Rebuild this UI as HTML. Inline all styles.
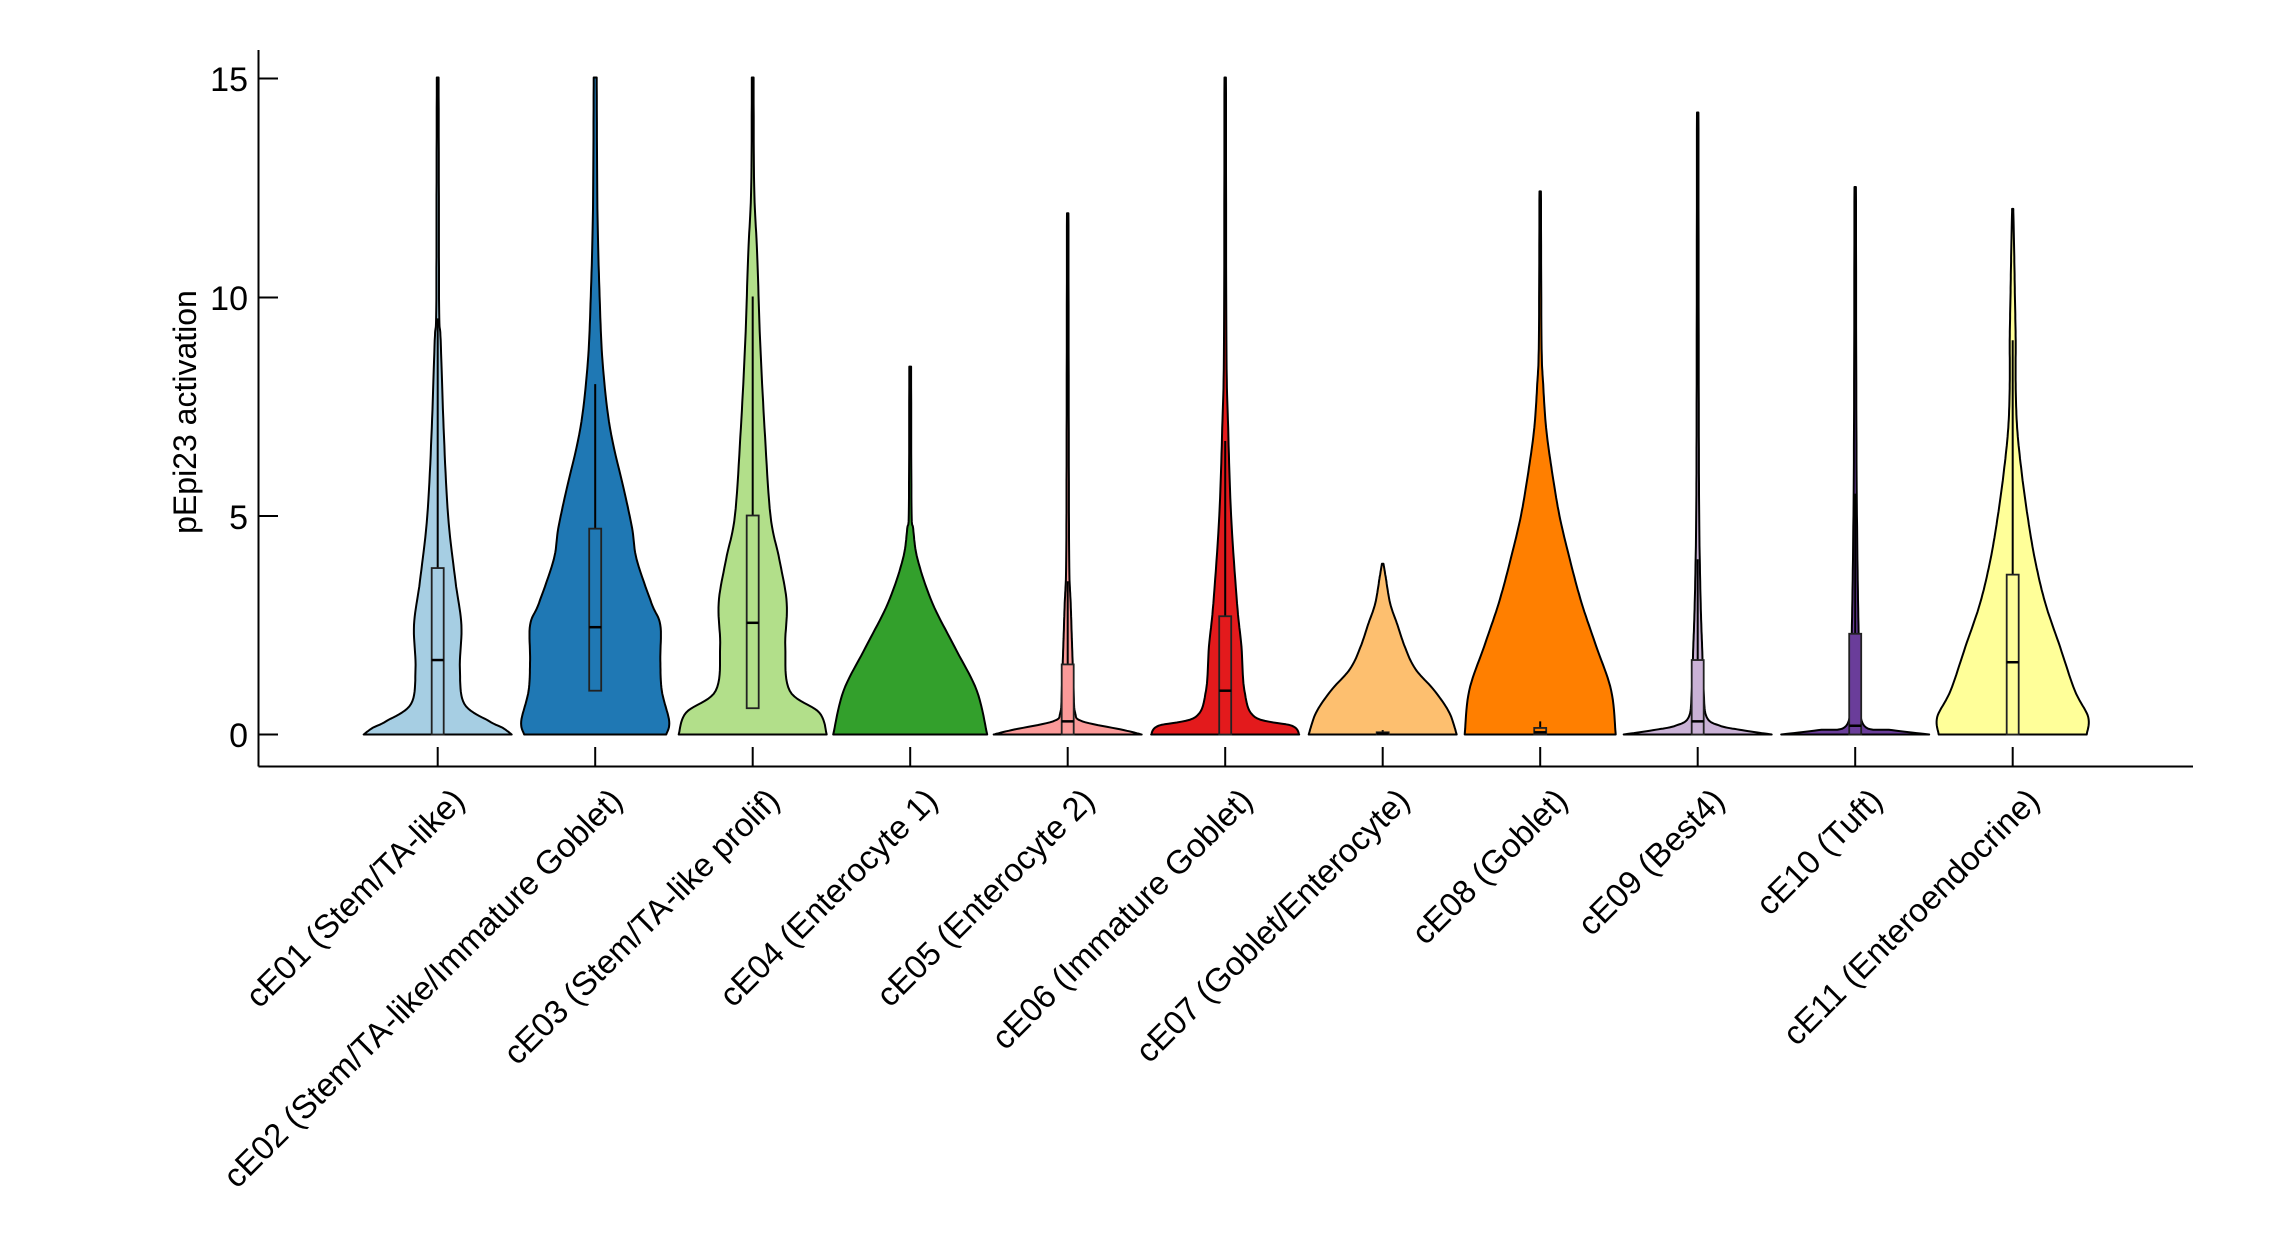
<!DOCTYPE html>
<html><head><meta charset="utf-8"><style>
html,body{margin:0;padding:0;background:#fff;}
svg{display:block}
text{font-family:"Liberation Sans",Arial,sans-serif;fill:#000}
</style></head><body>
<svg id="s" width="2292" height="1250" viewBox="0 0 2292 1250" xmlns="http://www.w3.org/2000/svg">
<rect width="2292" height="1250" fill="#fff"/>
<g id="v"></g>
<line x1="258.5" y1="50" x2="258.5" y2="766.5" stroke="#000" stroke-width="2"/>
<line x1="258.5" y1="766.5" x2="2193" y2="766.5" stroke="#000" stroke-width="2"/>
<g stroke="#000" stroke-width="2">
<line x1="258.5" y1="78.5" x2="278" y2="78.5"/>
<line x1="258.5" y1="297.5" x2="278" y2="297.5"/>
<line x1="258.5" y1="516" x2="278" y2="516"/>
<line x1="258.5" y1="734.5" x2="278" y2="734.5"/>
</g>
<g font-size="34" text-anchor="end">
<text x="248" y="91">15</text>
<text x="248" y="310">10</text>
<text x="248" y="529">5</text>
<text x="248" y="747">0</text>
</g>
<text transform="translate(196,412) rotate(-90)" font-size="32" text-anchor="middle">pEpi23 activation</text>
<g id="ticks" stroke="#000" stroke-width="2"></g>
<g font-size="33" text-anchor="end">
<text transform="translate(450,786) rotate(-45)" dy="0.7em">cE01 (Stem/TA-like)</text>
<text transform="translate(608,786) rotate(-45)" dy="0.7em">cE02 (Stem/TA-like/Immature Goblet)</text>
<text transform="translate(765,786) rotate(-45)" dy="0.7em">cE03 (Stem/TA-like prolif)</text>
<text transform="translate(923,786) rotate(-45)" dy="0.7em">cE04 (Enterocyte 1)</text>
<text transform="translate(1080,786) rotate(-45)" dy="0.7em">cE05 (Enterocyte 2)</text>
<text transform="translate(1238,786) rotate(-45)" dy="0.7em">cE06 (Immature Goblet)</text>
<text transform="translate(1395,786) rotate(-45)" dy="0.7em">cE07 (Goblet/Enterocyte)</text>
<text transform="translate(1553,786) rotate(-45)" dy="0.7em">cE08 (Goblet)</text>
<text transform="translate(1710,786) rotate(-45)" dy="0.7em">cE09 (Best4)</text>
<text transform="translate(1868,786) rotate(-45)" dy="0.7em">cE10 (Tuft)</text>
<text transform="translate(2025,786) rotate(-45)" dy="0.7em">cE11 (Enteroendocrine)</text>
</g>
</svg>
<script>
var Y0=734.5,K=43.8,S=1.48;
function y(v){return Y0-v*K;}
var D=[
{c:"#a6cee3",p:[[0,50],[0.15,44],[0.3,35],[0.7,18],[1.5,15],[2.5,16],[3.5,12],[5,7],[7,4],[9,2],[9.6,1],[12,0.8],[15,0.6]],b:[0,1.7,3.8],w:9.5},
{c:"#1f78b4",p:[[0,48],[0.3,50],[1,45],[1.7,44],[2.5,44],[3,38],[4,28],[4.7,25],[5.5,20],[7,10],[8.5,5],[10,3],[12,1.5],[15,1]],b:[1,2.45,4.7],w:8},
{c:"#b2df8a",p:[[0,50],[0.5,45],[1,25],[2,22],[3,23],[4,18],[5,12],[7,8],[9,5],[11,3],[12.5,1],[15,0.6]],b:[0.6,2.55,5],w:10},
{c:"#33a02c",p:[[0,52],[1,45],[2,30],[3,15],[4,5],[4.7,2],[5.2,0.9],[8.4,0.6]],b:null},
{c:"#fb9a99",p:[[0,50],[0.1,38],[0.3,10],[0.5,5],[1,4],[2,3],[3,2],[4,1],[7.3,0.7],[11.9,0.5]],b:[0,0.3,1.6],w:3.5},
{c:"#e31a1c",p:[[0,50],[0.2,45],[0.4,20],[1,13],[2,11],[3,8],[5,4],[7,2],[9,0.8],[15,0.5]],b:[0,1,2.7],w:6.7},
{c:"#fdbf6f",p:[[0,50],[0.5,45],[1,35],[1.5,22],[2,15],[2.5,10],[3,5],[3.6,2],[3.9,0.5]],b:[0,0.02,0.05],w:0.1},
{c:"#ff7f00",p:[[0,51],[1,48],[2,38],[3,28],[4,20],[5,13],[6,8],[7,4],[8,2],[9,0.9],[12.4,0.5]],b:[0,0.05,0.15],w:0.3},
{c:"#cab2d6",p:[[0,50],[0.1,30],[0.2,15],[0.4,6],[1,4],[2,3],[3,2],[5,1],[8,0.7],[14.2,0.5]],b:[0,0.3,1.7],w:4},
{c:"#6a3d9a",p:[[0,50],[0.1,25],[0.2,6],[1,3],[2,2.5],[4,1.5],[7,0.8],[12.5,0.5]],b:[0,0.2,2.3],w:5.5},
{c:"#ffff99",p:[[0,50],[0.4,51],[1,42],[2,32],[3,22],[4,15],[5,10],[6,6],[7,3],[8,2],[9,2],[10,1.5],[11,1],[12,0.4]],b:[0,1.65,3.65],w:9}
];
function sample(p){var out=[];for(var i=0;i<p.length-1;i++){var p0=p[Math.max(0,i-1)],p1=p[i],p2=p[i+1],p3=p[Math.min(p.length-1,i+2)];
for(var t=0;t<1;t+=0.1){var t2=t*t,t3=t2*t;
function cr(a,b,c,d){return 0.5*(2*b+(-a+c)*t+(2*a-5*b+4*c-d)*t2+(-a+3*b-3*c+d)*t3);}
out.push([cr(p0[0],p1[0],p2[0],p3[0]),Math.max(0.4,cr(p0[1],p1[1],p2[1],p3[1]))]);}}
out.push(p[p.length-1]);return out;}
var g=document.getElementById('v'),tk=document.getElementById('ticks'),h='',th='';
D.forEach(function(d,i){var cx=437.7+i*157.5;var s=sample(d.p);var L=[],R=[];
s.forEach(function(q){R.push((cx+q[1]*S).toFixed(1)+','+y(q[0]).toFixed(1));L.unshift((cx-q[1]*S).toFixed(1)+','+y(q[0]).toFixed(1));});
h+='<path d="M'+L.join(' L')+' L'+R.join(' L')+' Z" fill="'+d.c+'" stroke="#000" stroke-width="2" stroke-linejoin="round"/>';
if(d.b){var bw=6;
h+='<line x1="'+cx+'" y1="'+y(d.b[0])+'" x2="'+cx+'" y2="'+y(d.w)+'" stroke="#000" stroke-width="2"/>';
h+='<rect x="'+(cx-bw)+'" y="'+y(d.b[2])+'" width="'+(2*bw)+'" height="'+(y(d.b[0])-y(d.b[2]))+'" fill="'+d.c+'" stroke="#222" stroke-width="1.8"/>';
h+='<line x1="'+(cx-bw)+'" y1="'+y(d.b[1])+'" x2="'+(cx+bw)+'" y2="'+y(d.b[1])+'" stroke="#000" stroke-width="2.5"/>';}
th+='<line x1="'+cx+'" y1="747" x2="'+cx+'" y2="766.5"/>';});
g.innerHTML=h;tk.innerHTML=th;
</script>
</body></html>
